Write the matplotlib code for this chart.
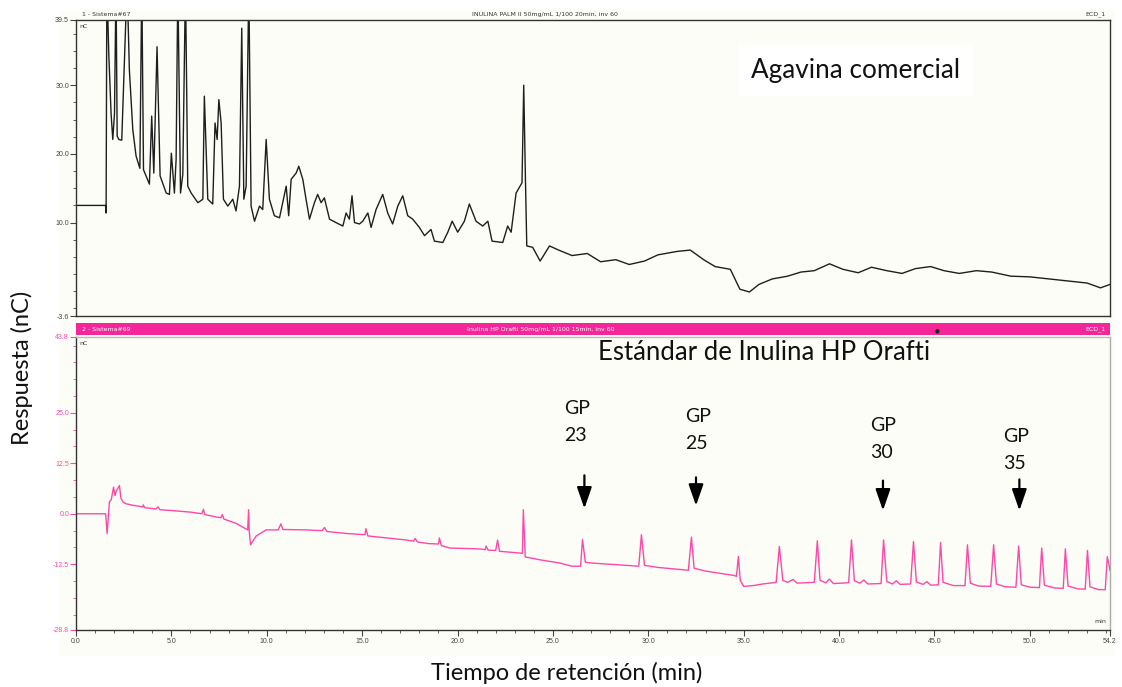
# Cromatogramas HPAEC-PAD: agavina comercial vs estandar de inulina HP Orafti
import matplotlib
matplotlib.use('Agg')
import matplotlib.pyplot as plt
from matplotlib.ticker import MultipleLocator, FixedLocator
from matplotlib.patches import Rectangle

# ---- datos leidos del cromatograma (tiempo en min, respuesta en nC) ----
# panel superior: agavina comercial (valores 45 = pico fuera de escala)
top_t = [0.0, 1.55, 1.58, 1.62, 1.72, 1.84, 1.93, 2.02, 2.10, 2.16, 2.25, 2.40,
         2.68, 2.80, 2.98, 3.15, 3.35, 3.45, 3.54, 3.85, 3.97, 4.08, 4.25, 4.41,
         4.73, 4.90, 5.00, 5.16, 5.25, 5.34, 5.48, 5.60, 5.74, 5.86, 6.04, 6.39,
         6.65, 6.73, 6.91, 7.17, 7.29, 7.40, 7.49, 7.61, 7.73, 7.96, 8.22, 8.39,
         8.57, 8.69, 8.80, 8.92, 9.06, 9.18, 9.36, 9.62, 9.79, 9.97, 10.14, 10.40,
         10.67, 10.84, 11.02, 11.15, 11.28, 11.54, 11.68, 11.89, 12.06, 12.24, 12.50,
         12.67, 12.85, 13.02, 13.29, 13.63, 13.99, 14.16, 14.33, 14.47, 14.60, 14.86,
         15.03, 15.30, 15.47, 15.73, 16.08, 16.34, 16.60, 16.87, 17.13, 17.39, 17.65,
         18.00, 18.27, 18.61, 18.79, 19.23, 19.49, 19.72, 20.01, 20.36, 20.62, 20.97,
         21.32, 21.59, 21.81, 22.37, 22.63, 22.81, 23.07, 23.38, 23.47, 23.56, 23.63,
         23.94, 24.33, 24.82, 25.30, 26.00, 26.80, 27.50, 28.30, 29.00, 29.80, 30.50,
         31.50, 32.20, 32.90, 33.50, 34.30, 34.80, 35.30, 35.80, 36.50, 37.30, 38.00,
         38.70, 39.50, 40.20, 41.00, 41.70, 42.50, 43.30, 44.00, 44.80, 45.50, 46.30,
         47.20, 48.00, 49.00, 50.00, 51.00, 52.00, 53.00, 53.70, 54.20]
top_nc = [12.5, 12.5, 11.4, 45.0, 34.6, 25.9, 22.1, 25.9, 45.0, 22.6, 22.1, 22.0,
          45.0, 32.2, 23.5, 19.7, 17.9, 45.0, 17.7, 15.6, 25.5, 17.2, 35.6, 16.8,
          14.3, 14.1, 20.1, 14.3, 19.2, 45.0, 14.3, 17.0, 45.0, 15.3, 14.3, 12.9,
          13.4, 28.4, 13.4, 12.7, 24.5, 22.1, 27.9, 24.5, 13.4, 12.4, 13.4, 11.7,
          15.3, 38.3, 13.4, 15.3, 45.0, 12.4, 10.2, 12.4, 11.9, 22.1, 13.4, 11.0,
          10.7, 12.9, 15.3, 11.0, 16.3, 17.2, 18.2, 16.3, 13.4, 10.5, 12.9,
          14.1, 12.9, 13.6, 10.5, 10.0, 9.5, 11.4, 10.5, 13.9, 10.0, 9.8,
          10.2, 11.4, 9.3, 11.9, 14.1, 11.4, 9.8, 12.4, 13.9, 11.0, 10.5,
          9.3, 8.1, 9.0, 7.3, 7.1, 8.6, 10.2, 8.6, 10.2, 12.7, 10.2,
          9.5, 10.2, 7.3, 7.1, 9.5, 8.6, 14.3, 15.8, 30.0, 16.3, 6.6,
          6.4, 4.4, 6.6, 6.0, 5.2, 5.5, 4.3, 4.6, 3.9, 4.4, 5.3,
          5.8, 6.0, 4.6, 3.6, 3.2, 0.3, -0.1, 1.0, 1.8, 2.2, 2.8,
          3.0, 4.0, 3.2, 2.7, 3.5, 3.0, 2.6, 3.3, 3.6, 3.0, 2.6,
          3.0, 2.8, 2.2, 2.1, 1.8, 1.5, 1.2, 0.5, 1.0]

# panel inferior: estandar de inulina HP Orafti
bot_t = [0.0, 1.55, 1.58, 1.63, 1.68, 1.75, 1.85, 1.97, 2.05, 2.10, 2.28, 2.35,
         2.45, 2.60, 2.98, 3.50, 3.53, 3.60, 4.20, 4.30, 4.40, 5.00, 6.00, 6.60,
         6.68, 6.75, 7.35, 7.60, 7.67, 7.75, 8.40, 9.00, 9.05, 9.08, 9.15, 9.45,
         9.97, 10.60, 10.74, 10.85, 12.00, 12.90, 13.03, 13.15, 14.20, 15.15, 15.20,
         15.30, 17.30, 17.70, 17.78, 17.90, 18.50, 19.00, 19.05, 19.15, 19.60, 21.10,
         21.45, 21.50, 21.60, 22.00, 22.10, 22.20, 23.40, 23.45, 23.55, 24.30, 25.35,
         26.00, 26.45, 26.55, 26.70, 27.00, 29.50, 29.64, 29.80, 30.50, 32.10, 32.26,
         32.40, 33.00, 34.50, 34.62, 34.72, 34.82, 35.00, 35.50, 36.00, 36.70, 36.87,
         37.05, 37.30, 37.60, 37.80, 38.70, 38.86, 39.00, 39.30, 39.50, 39.70, 40.50,
         40.65, 40.80, 41.10, 41.30, 41.50, 42.20, 42.33, 42.50, 42.80, 43.00, 43.20,
         43.75, 43.90, 44.05, 44.40, 44.60, 44.80, 45.20, 45.32, 45.45, 46.00, 46.60,
         46.73, 46.88, 47.30, 47.95, 48.10, 48.25, 48.70, 49.27, 49.41, 49.55, 50.00,
         50.50, 50.62, 50.76, 51.30, 51.75, 51.86, 52.00, 52.50, 52.90, 53.02, 53.15,
         53.60, 53.95, 54.06, 54.20]
bot_nc = [0.0, 0.0, -1.5, -4.9, -2.0, 2.9, 3.5, 6.6, 4.5, 5.5, 7.0, 4.0,
          3.0, 2.5, 2.1, 1.7, 2.2, 1.5, 1.2, 1.7, 1.0, 0.8, 0.4, 0.0,
          1.1, -0.2, -0.8, -1.0, -0.2, -1.3, -2.4, -4.0, 1.0, -4.2, -7.7, -5.5,
          -4.0, -4.0, -2.5, -3.9, -4.0, -4.2, -3.4, -4.4, -4.9, -5.2, -3.7,
          -5.5, -6.5, -6.8, -6.1, -7.0, -7.4, -7.5, -6.0, -7.9, -8.5, -8.7,
          -8.9, -8.0, -9.0, -9.1, -6.5, -9.3, -9.8, 1.0, -10.7, -11.4, -12.2,
          -13.0, -13.0, -6.4, -12.0, -12.2, -13.0, -5.2, -12.8, -13.3, -14.0, -5.8,
          -13.5, -14.2, -15.3, -15.5, -10.6, -16.5, -18.0, -17.8, -17.4, -17.0, -8.1,
          -16.5, -17.0, -16.3, -17.2, -17.0, -6.7, -16.5, -17.1, -16.2, -17.3, -17.1,
          -6.5, -16.6, -17.2, -16.4, -17.4, -17.3, -6.5, -16.8, -17.4, -16.6, -17.5,
          -17.4, -6.9, -16.9, -17.5, -16.8, -17.7, -17.6, -7.1, -17.0, -17.8, -17.8,
          -7.7, -17.2, -17.9, -18.0, -7.7, -17.4, -18.1, -18.2, -8.0, -17.6, -18.2,
          -18.3, -8.5, -17.7, -18.4, -18.5, -8.7, -17.9, -18.6, -18.7, -9.1, -18.1,
          -18.8, -18.8, -10.6, -14.0]

# marcas de grado de polimerizacion (GP)
gp_labels = ['23', '25', '30', '35']
gp_t = [26.65, 32.5, 42.3, 49.45]
gp_text_t = [26.25, 32.6, 42.3, 49.3]
gp_text_y = [22.7, 20.7, 18.5, 15.8]
gp_arrow_top = [10.2, 9.7, 8.9, 9.2]
gp_arrow_tip = [0.6, 1.3, 0.1, 0.1]

# escalas de los ejes
x_ticks = [0.0, 5.0, 10.0, 15.0, 20.0, 25.0, 30.0, 35.0, 40.0, 45.0, 50.0, 54.2]
top_yticks = [-3.6, 10.0, 20.0, 30.0, 39.5]
bot_yticks = [-28.8, -12.5, 0.0, 12.5, 25.0, 43.8]

pink = '#ff47a8'
bar_pink = '#f5259a'
cream = '#fdfdf8'
tick_font = {'family': 'Liberation Sans', 'size': 5}

fig = plt.figure(figsize=(11.22, 6.87), dpi=100)
fig.patch.set_facecolor('white')

# fondo crema de la captura
fig.patches.append(Rectangle((0.053, 0.045), 0.941, 0.94, transform=fig.transFigure,
                             facecolor=cream, edgecolor='none', zorder=-5))

ax1 = fig.add_axes([0.0677, 0.540, 0.9216, 0.431])
ax2 = fig.add_axes([0.0677, 0.083, 0.9216, 0.4265])

# ---- panel superior ----
ax1.plot(top_t, top_nc, color='#1e1e1e', lw=1.0)
ax1.set_xlim(0, 54.2)
ax1.set_ylim(-3.6, 39.5)
ax1.set_facecolor(cream)
ax1.set_xticks([])
ax1.yaxis.set_major_locator(FixedLocator(top_yticks))
ax1.yaxis.set_minor_locator(MultipleLocator(2.5))
ax1.set_yticklabels(['%.1f' % v for v in top_yticks], fontdict=tick_font, color='#444444')
ax1.tick_params(axis='y', which='major', length=4, width=0.8, color='#444444', pad=1)
ax1.tick_params(axis='y', which='minor', length=2, width=0.6, color='#444444')
for s in ax1.spines.values():
    s.set_color('#333333')
    s.set_linewidth(1.0)
ax1.text(0.003, 0.985, 'nC', transform=ax1.transAxes, fontsize=4.5, va='top', color='#333333')
fig.text(0.073, 0.979, '1 - Sistema#67', fontsize=4.5, color='#333333', va='center')
fig.text(0.486, 0.979, 'INULINA PALM II 50mg/mL 1/100 20min, inv 60', fontsize=4.5,
         color='#333333', va='center', ha='center')
fig.text(0.985, 0.979, 'ECD_1', fontsize=4.5, color='#333333', va='center', ha='right')
ax1.text(0.653, 0.83, 'Agavina comercial', transform=ax1.transAxes, fontsize=18.8,
         family='Lato', va='center', ha='left', color='#111111',
         bbox=dict(boxstyle='square,pad=0.5', facecolor='white', edgecolor='none'))

# ---- barra rosa del segundo canal ----
fig.patches.append(Rectangle((0.0677, 0.5124), 0.9216, 0.0174, transform=fig.transFigure,
                             facecolor=bar_pink, edgecolor='none', zorder=3))
fig.text(0.073, 0.521, '2 - Sistema#69', fontsize=4.5, color='white', va='center', zorder=4)
fig.text(0.482, 0.521, 'Inulina HP Orafti 50mg/mL 1/100 15min, inv 60', fontsize=4.5,
         color='white', va='center', ha='center', zorder=4)
fig.text(0.985, 0.521, 'ECD_1', fontsize=4.5, color='white', va='center', ha='right', zorder=4)
fig.text(0.833, 0.519, '\u25cf', fontsize=4, color='#222222', va='center', zorder=4)

# ---- panel inferior ----
ax2.plot(bot_t, bot_nc, color=pink, lw=1.0)
ax2.set_xlim(0, 54.2)
ax2.set_ylim(-28.8, 43.8)
ax2.set_facecolor(cream)
ax2.xaxis.set_major_locator(FixedLocator(x_ticks))
ax2.xaxis.set_minor_locator(MultipleLocator(1.0))
ax2.set_xticklabels(['%.1f' % v for v in x_ticks], fontdict=tick_font, color='#444444')
ax2.yaxis.set_major_locator(FixedLocator(bot_yticks))
ax2.yaxis.set_minor_locator(MultipleLocator(12.5 / 3))
ax2.set_yticklabels(['%.1f' % v for v in bot_yticks], fontdict=tick_font, color=pink)
ax2.tick_params(axis='y', which='major', length=4, width=0.8, color=pink, pad=1)
ax2.tick_params(axis='y', which='minor', length=2, width=0.6, color=pink)
ax2.tick_params(axis='x', which='major', length=4, width=0.8, color='#444444', pad=2)
ax2.tick_params(axis='x', which='minor', length=2, width=0.6, color='#444444')
for s in ax2.spines.values():
    s.set_color('#333333')
    s.set_linewidth(1.0)
ax2.spines['top'].set_color('#bbbbbb')
ax2.spines['right'].set_color('#aaaaaa')
ax2.text(0.003, 0.985, 'nC', transform=ax2.transAxes, fontsize=4.5, va='top', color='#333333')
ax2.text(0.996, 0.02, 'min', transform=ax2.transAxes, fontsize=4.5, va='bottom',
         ha='right', color='#333333')
ax2.text(0.505, 0.99, 'Estándar de Inulina HP Orafti', transform=ax2.transAxes, fontsize=18.5,
         family='Lato', va='top', ha='left', color='#111111')

# flechas GP
for lab, t, tt, ty, a0, a1 in zip(gp_labels, gp_t, gp_text_t, gp_text_y,
                                  gp_arrow_top, gp_arrow_tip):
    ax2.text(tt, ty, 'GP\n' + lab, fontsize=14, family='Lato', ha='center',
             multialignment='left', va='center', linespacing=1.75, color='#111111')
    ax2.annotate('', xy=(t, a1), xytext=(t, a0),
                 arrowprops=dict(arrowstyle='-|>,head_width=0.45,head_length=1.3',
                                 color='black', lw=1.6))

# titulos de los ejes
fig.text(0.02, 0.464, 'Respuesta (nC)', rotation=90, fontsize=17, family='Lato',
         va='center', ha='center', color='#111111')
fig.text(0.505, 0.02, 'Tiempo de retención (min)', fontsize=17, family='Lato',
         va='center', ha='center', color='#111111')

fig.savefig('out.png', dpi=100)
